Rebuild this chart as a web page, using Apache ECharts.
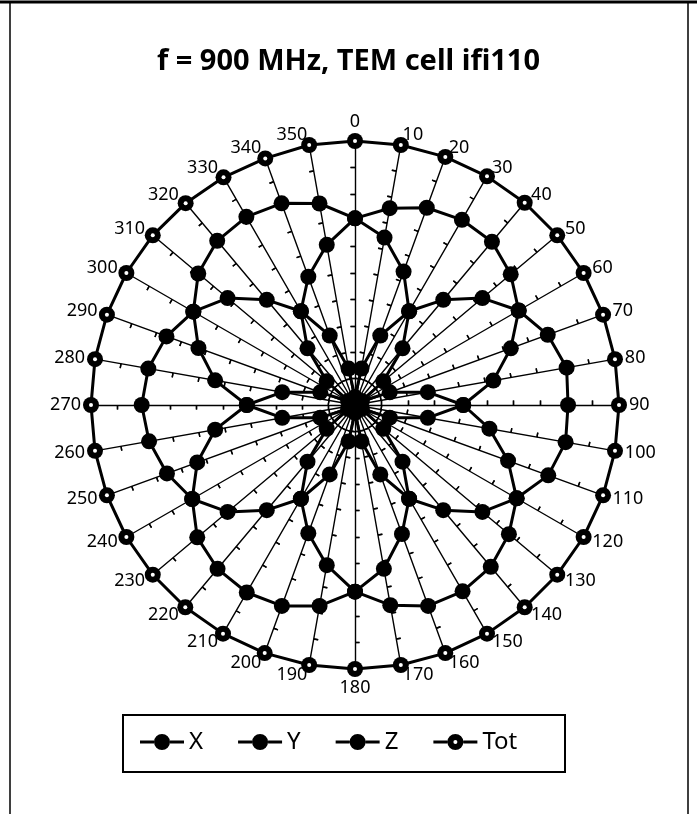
<!DOCTYPE html>
<html><head><meta charset="utf-8">
<script src="https://cdn.jsdelivr.net/npm/echarts@6/dist/echarts.min.js"></script>
<style>html,body{margin:0;padding:0;background:#fff}#c{width:697px;height:814px}</style>
</head><body><div id="c"></div>
<script>
// Angle categories (degrees) and tick labels
const angles = [0,10,20,30,40,50,60,70,80,90,100,110,120,130,140,150,160,170,180,190,200,210,220,230,240,250,260,270,280,290,300,310,320,330,340,350];
const angleLabels = angles.map(a => String(a));
const radialMax = 1.0;
const radialSplits = 10;

// Series values (normalized field), in angle order
const seriesX = [0.707,0.757,0.795,0.810,0.807,0.770,0.716,0.628,0.532,0.410,0.280,0.140,0.030,0.140,0.280,0.410,0.520,0.630,0.707,0.773,0.810,0.820,0.810,0.780,0.712,0.636,0.538,0.410,0.280,0.140,0.030,0.140,0.280,0.410,0.517,0.616];
const seriesY = [0.707,0.644,0.538,0.410,0.280,0.140,0.030,0.140,0.280,0.410,0.517,0.617,0.707,0.761,0.800,0.815,0.810,0.770,0.707,0.616,0.517,0.410,0.280,0.140,0.030,0.140,0.280,0.410,0.538,0.631,0.707,0.775,0.812,0.823,0.813,0.775];
const seriesZ = [0.030,0.140,0.280,0.410,0.520,0.630,0.716,0.777,0.814,0.807,0.810,0.779,0.707,0.630,0.520,0.410,0.280,0.140,0.030,0.140,0.280,0.410,0.520,0.630,0.712,0.758,0.792,0.808,0.795,0.760,0.707,0.630,0.520,0.410,0.280,0.140];
const seriesTot = [1.000,1.000,1.000,1.000,1.000,1.000,1.000,1.000,1.000,1.000,1.000,1.000,1.000,1.000,1.000,1.000,1.000,1.000,1.000,1.000,1.000,1.000,1.000,1.000,1.000,1.000,1.000,1.000,1.000,1.000,1.000,1.000,0.998,0.996,0.994,1.000];

const FONT = 'Noto Sans';
// radar runs counter-clockwise, so feed it in reversed angular order (0, 350, 340, ... 10)
const order = angles.map((_, i) => (angles.length - i) % angles.length);
const reorder = arr => order.map(i => arr[i]);
const indicators = order.map(i => ({ name: angleLabels[i], min: 0, max: radialMax }));
const indicatorsBlank = order.map(i => ({ name: '', min: 0, max: radialMax }));

const iconFilled = 'path://M0,6.5L14,6.5L14,9.5L0,9.5Z M30,6.5L44,6.5L44,9.5L30,9.5Z M14,8A8,8 0 1,1 30,8A8,8 0 1,1 14,8Z';
const iconTot = 'path://M0,6.5L14,6.5L14,9.5L0,9.5Z M30,6.5L44,6.5L44,9.5L30,9.5Z M14,8A8,8 0 1,1 30,8A8,8 0 1,1 14,8Z M24,8A2,2 0 1,0 20,8A2,2 0 1,0 24,8Z';

const chart = echarts.init(document.getElementById('c'), null, { renderer: 'canvas' });
const common = {
  center: [355, 405], radius: 264, startAngle: 90, splitNumber: radialSplits,
  shape: 'polygon',
  splitLine: { show: false }, splitArea: { show: false }, axisLabel: { show: false }
};
function mkSeries(name, vals, opts) {
  return Object.assign({
    type: 'radar', radarIndex: 0, name: name, z: 2,
    symbol: 'circle',
    symbolSize: 16,
    lineStyle: { color: '#000', width: 3 },
    itemStyle: { color: '#000' },
    emphasis: { disabled: true },
    silent: true,
    data: [{ name: name, value: reorder(vals) }]
  }, opts || {});
}
chart.setOption({
  animation: false,
  backgroundColor: '#fff',
  title: {
    text: 'f = 900 MHz, TEM cell ifi110', left: 'center', top: 42,
    textStyle: { fontFamily: FONT, fontSize: 29, fontWeight: 'bold', color: '#000' }
  },
  radar: [
    Object.assign({}, common, {
      indicator: indicators,
      axisName: { color: '#000', fontSize: 18, fontFamily: FONT },
      axisNameGap: 10,
      axisLine: { show: true, lineStyle: { color: '#000', width: 1.4 } },
      axisTick: { show: true, length: 4.5, inside: false, lineStyle: { color: '#000', width: 1.4 } }
    }),
    Object.assign({}, common, {
      indicator: indicatorsBlank,
      axisName: { show: false },
      axisLine: { show: false },
      axisTick: { show: true, length: 4.5, inside: true, lineStyle: { color: '#000', width: 1.4 } }
    })
  ],
  legend: {
    left: 140, top: 730, padding: 0,
    itemWidth: 44, itemHeight: 16, itemGap: 35,
    selectedMode: false,
    textStyle: { fontSize: 24, color: '#000', fontFamily: FONT },
    itemStyle: { color: '#000', borderWidth: 0 },
    data: [
      { name: 'X', icon: iconFilled }, { name: 'Y', icon: iconFilled },
      { name: 'Z', icon: iconFilled }, { name: 'Tot', icon: iconTot }
    ]
  },
  graphic: [
    { type: 'rect', shape: { x: 10, y: 2, width: 678, height: 830 }, style: { fill: 'none', stroke: '#000', lineWidth: 1.5 }, silent: true },
    { type: 'line', shape: { x1: 0, y1: 2, x2: 697, y2: 2 }, style: { stroke: '#000', lineWidth: 3 }, silent: true },
    { type: 'rect', shape: { x: 123, y: 715, width: 442, height: 57 }, style: { fill: 'none', stroke: '#000', lineWidth: 2 }, silent: true }
  ],
  series: [
    mkSeries('X', seriesX),
    mkSeries('Y', seriesY),
    mkSeries('Z', seriesZ),
    mkSeries('Tot', seriesTot, { z: 3 }),
    // white centre dots of the Tot markers (same data, no line)
    mkSeries('TotDot', seriesTot, { z: 4, symbolSize: 4, itemStyle: { color: '#fff' }, lineStyle: { width: 0, opacity: 0 } })
  ]
});
</script>
</body></html>
